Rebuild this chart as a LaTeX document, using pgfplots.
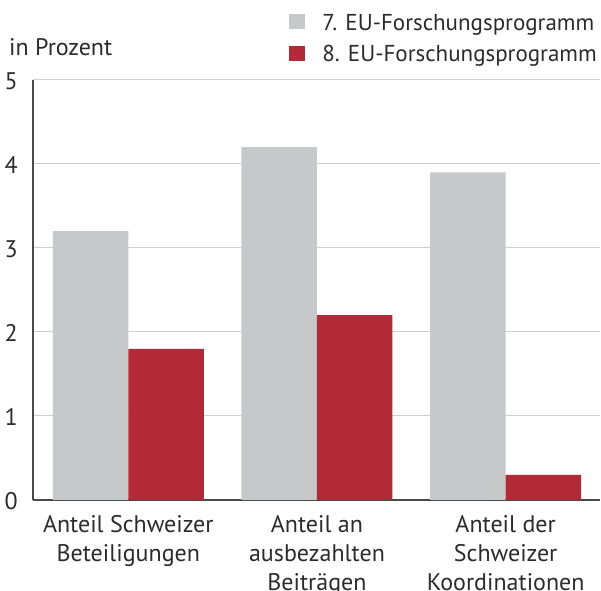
\documentclass[border=0pt]{standalone}
\usepackage{pgfplots}
\pgfplotsset{compat=1.18}
\usepackage{fontspec}
\setmainfont{PT Sans}
\definecolor{cgray}{HTML}{C7C8CA}
\definecolor{cred}{HTML}{B22A37}
\definecolor{caxis}{HTML}{4A4A4A}
\definecolor{cgrid}{HTML}{CFCFCF}
\definecolor{ctext}{HTML}{2B2B2B}
\begin{document}
\fontsize{24bp}{28.5bp}\selectfont
\begin{tikzpicture}
\begin{axis}[
  name=ax,
  scale only axis,
  width=567bp, height=420bp,
  ybar=0pt, bar width=75.5bp,
  xmin=-0.505, xmax=2.5,
  ymin=0, ymax=5,
  ytick={0,1,2,3,4,5},
  xtick={0,1,2},
  xticklabels={{Anteil Schweizer\\Beteiligungen},{Anteil an\\ausbezahlten\\Beiträgen},{Anteil der\\Schweizer\\Koordinationen}},
  xticklabel style={align=center, font=\fontsize{24bp}{29bp}\selectfont, text=ctext, yshift=-7bp},
  yticklabel style={font=\fontsize{24bp}{28.5bp}\selectfont, text=ctext, xshift=-7bp, yshift=-1bp},
  /pgf/number format/assume math mode=true,
  axis x line*=bottom, axis y line*=left,
  axis line style={caxis, line width=1.2bp},
  major tick length=0pt,
  ymajorgrids, grid style={cgrid, line width=1bp},
  legend style={at={(rel axis cs:1,1)}, anchor=north east, xshift=-1bp, yshift=69bp, draw=none, fill=none, inner sep=0pt, row sep=7bp, column sep=15bp, font=\fontsize{23bp}{28bp}\selectfont, text=ctext, cells={anchor=west, text height=17bp, text depth=5bp}},
  legend image code/.code={\fill (0bp,-6bp) rectangle (16bp,9bp);},
]
\addplot[fill=cgray, draw=none] coordinates {(0,3.2) (1,4.2) (2,3.9)};
\addplot[fill=cred, draw=none] coordinates {(0,1.8) (1,2.2) (2,0.3)};
\legend{7. EU-Forschungsprogramm, 8. EU-Forschungsprogramm}
\end{axis}
\node[anchor=base west, inner sep=0pt, text=ctext] at ([xshift=-24bp, yshift=24bp]ax.north west) {in Prozent};
\pgfresetboundingbox
\useasboundingbox ([xshift=-33bp, yshift=-91bp]ax.south west) rectangle ([xshift=1bp, yshift=80bp]ax.north east);
\end{tikzpicture}
\end{document}
